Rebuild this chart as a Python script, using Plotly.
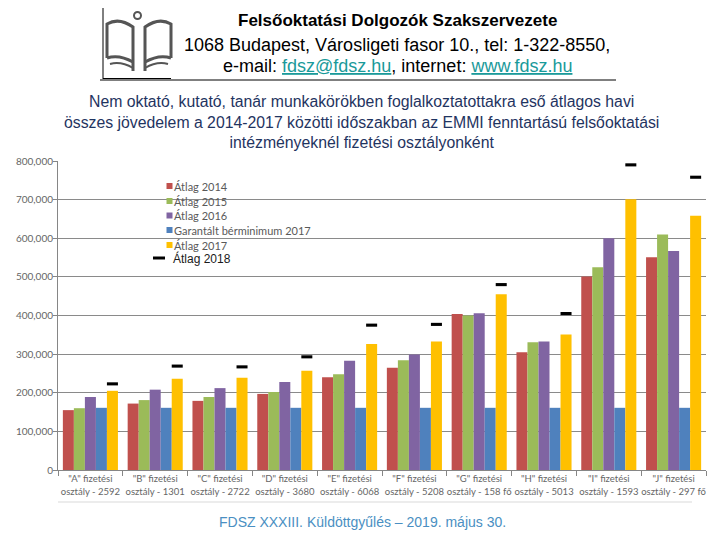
import plotly.graph_objects as go

categories = [
    '"A" fizetési<br>osztály - 2592',
    '"B" fizetési<br>osztály - 1301',
    '"C" fizetési<br>osztály - 2722',
    '"D" fizetési<br>osztály - 3680',
    '"E" fizetési<br>osztály - 6068',
    '"F" fizetési<br>osztály - 5208',
    '"G" fizetési<br>osztály - 158 fő',
    '"H" fizetési<br>osztály - 5013',
    '"I" fizetési<br>osztály - 1593',
    '"J" fizetési<br>osztály - 297 fő',
]
atlag_2014 = [155000, 172000, 179000, 197000, 240000, 265000, 404000, 305000, 501000, 551000]
atlag_2015 = [160000, 181000, 189000, 202000, 248000, 284000, 400000, 331000, 525000, 610000]
atlag_2016 = [189000, 208000, 212000, 228000, 283000, 299000, 406000, 333000, 600000, 567000]
berminimum_2017 = [161000, 161000, 161000, 161000, 161000, 161000, 161000, 161000, 161000, 161000]
atlag_2017 = [205000, 236000, 239000, 257000, 326000, 333000, 455000, 351000, 701000, 658000]
atlag_2018 = [223000, 269000, 267000, 293000, 375000, 377000, 480000, 405000, 790000, 758000]

series_names = ["Átlag 2014", "Átlag 2015", "Átlag 2016", "Garantált bérminimum 2017", "Átlag 2017"]
series_values = [atlag_2014, atlag_2015, atlag_2016, berminimum_2017, atlag_2017]
series_colors = ["#C0504D", "#9BBB59", "#8064A2", "#4F81BD", "#FFC000"]
name_2018 = "Átlag 2018"
y_ticks = [0, 100000, 200000, 300000, 400000, 500000, 600000, 700000, 800000]

# page offset of the figure inside the browser window (default body margin)
OFF = 8
# plot area geometry in screenshot pixels
L, R, T, B = 58, 706, 161, 470
W, H = 720 - OFF, 540 - OFF


def px(x):
    return (x - L) / (R - L)


def py(y):
    return (B - y) / (B - T)


fig = go.Figure()
for i, (nm, vals, col) in enumerate(zip(series_names, series_values, series_colors)):
    fig.add_trace(go.Bar(x=categories, y=vals, name=nm, marker_color=col,
                         marker_line_width=0, offsetgroup=str(i), showlegend=False))

# 2018 averages: short black dashes above the 2017 bars
thick = 8000
fig.add_trace(go.Bar(x=categories, y=[thick] * len(atlag_2018),
                     base=[v - thick / 2 for v in atlag_2018],
                     name=name_2018, marker_color="black", marker_line_width=0,
                     offsetgroup="4", showlegend=False))

fig.update_layout(
    width=W, height=H,
    margin=dict(l=L - OFF, r=W - (R - OFF), t=T - OFF, b=H - (B - OFF), autoexpand=False),
    paper_bgcolor="white", plot_bgcolor="white",
    barmode="group", bargap=0.15, bargroupgap=0,
    font=dict(family="Lato, Liberation Sans, sans-serif", color="#595959"),
)
fig.update_xaxes(
    type="category", showline=True, linecolor="#868686", linewidth=1,
    ticks="outside", tickson="boundaries", ticklen=5, tickcolor="#868686",
    tickangle=0, automargin=False,
    tickfont=dict(size=9.5, color="#666666"), showgrid=False,
)
fig.update_yaxes(
    range=[0, 800000], tickvals=y_ticks, tickformat=",d",
    showline=True, linecolor="#868686", linewidth=1,
    ticks="outside", ticklen=4, tickcolor="#868686", automargin=False,
    ticklabelstandoff=-2,
    tickfont=dict(size=10, color="#666666"),
    showgrid=True, gridcolor="#8a8a8a", gridwidth=1, zeroline=False,
)

shapes = []
annotations = []

# manual legend
leg_y = [186, 201, 215.5, 230, 245]
for nm, col, yy in zip(series_names, series_colors, leg_y):
    shapes.append(dict(type="rect", xref="paper", yref="paper",
                       x0=px(166.5), x1=px(172.5), y0=py(yy + 3), y1=py(yy - 3),
                       fillcolor=col, line_width=0))
    annotations.append(dict(text=nm, xref="paper", yref="paper", x=px(172), y=py(yy),
                            xanchor="left", yanchor="middle", showarrow=False,
                            font=dict(size=11, color="#595959", family="Lato, sans-serif")))
shapes.append(dict(type="line", xref="paper", yref="paper",
                   x0=px(153), x1=px(165), y0=py(258), y1=py(258),
                   line=dict(color="black", width=3)))
annotations.append(dict(text=name_2018, xref="paper", yref="paper", x=px(171), y=py(258),
                        xanchor="left", yanchor="middle", showarrow=False,
                        font=dict(size=12, color="#1a1a1a", family="Liberation Sans, Arial, sans-serif")))

# light separator below category labels
shapes.append(dict(type="line", xref="paper", yref="paper",
                   x0=px(58), x1=px(692), y0=py(502), y1=py(502),
                   line=dict(color="#d9d9d9", width=1)))

# header
hdr_font = "Liberation Sans, Arial, sans-serif"
annotations.append(dict(text="<b>Felsőoktatási Dolgozók Szakszervezete</b>", xref="paper", yref="paper",
                        x=px(397), y=py(20), xanchor="center", yanchor="middle", showarrow=False,
                        font=dict(size=17, color="black", family=hdr_font)))
annotations.append(dict(text="1068 Budapest, Városligeti fasor 10., tel: 1-322-8550,", xref="paper", yref="paper",
                        x=px(397), y=py(45), xanchor="center", yanchor="middle", showarrow=False,
                        font=dict(size=18, color="black", family=hdr_font)))
annotations.append(dict(text='e-mail: <span style="color:#1a9a9a"><u>fdsz@fdsz.hu</u></span>, internet: '
                             '<span style="color:#1a9a9a"><u>www.fdsz.hu</u></span>',
                        xref="paper", yref="paper",
                        x=px(397), y=py(66), xanchor="center", yanchor="middle", showarrow=False,
                        font=dict(size=18, color="black", family=hdr_font)))
shapes.append(dict(type="line", xref="paper", yref="paper",
                   x0=px(100), x1=px(616), y0=py(80), y1=py(80),
                   line=dict(color="black", width=1)))

# logo
g = "#555555"


def path(pts, cmds):
    s = ""
    k = 0
    for c in cmds:
        if c in "ML":
            s += f"{c} {px(pts[k][0])},{py(pts[k][1])} "
            k += 1
        elif c == "Q":
            s += f"Q {px(pts[k][0])},{py(pts[k][1])} {px(pts[k+1][0])},{py(pts[k+1][1])} "
            k += 2
    return s.strip()


shapes.append(dict(type="line", xref="paper", yref="paper", x0=px(103), x1=px(103),
                   y0=py(8), y1=py(79), line=dict(color="black", width=1)))
shapes.append(dict(type="line", xref="paper", yref="paper", x0=px(103), x1=px(171),
                   y0=py(78.5), y1=py(78.5), line=dict(color="black", width=1)))
shapes.append(dict(type="circle", xref="paper", yref="paper", x0=px(134), x1=px(141),
                   y0=py(12), y1=py(19), line=dict(color=g, width=2)))
for side in (1, -1):
    cx = 139
    def X(d):
        return cx - side * d
    shapes.append(dict(type="path", xref="paper", yref="paper",
                       path=path([(X(32), 58), (X(32), 24), (X(20), 17), (X(6), 27), (X(6), 71)],
                                 "MLQL"),
                       line=dict(color=g, width=3)))
    shapes.append(dict(type="path", xref="paper", yref="paper",
                       path=path([(X(32), 58), (X(20), 54), (X(6), 62)], "MQ"),
                       line=dict(color=g, width=3)))
    shapes.append(dict(type="path", xref="paper", yref="paper",
                       path=path([(X(29), 64), (X(18), 61), (X(6), 68)], "MQ"),
                       line=dict(color=g, width=2)))

# subtitle
annotations.append(dict(
    text="Nem oktató, kutató, tanár munkakörökben foglalkoztatottakra eső átlagos havi<br>"
         "összes jövedelem a 2014-2017 közötti időszakban az EMMI fenntartású felsőoktatási<br>"
         "intézményeknél fizetési osztályonként",
    xref="paper", yref="paper", x=px(361), y=py(122), xanchor="center", yanchor="middle",
    showarrow=False, align="center",
    font=dict(size=15.8, color="#1f3461", family=hdr_font)))

# footer
annotations.append(dict(text="FDSZ XXXIII. Küldöttgyűlés – 2019. május 30.", xref="paper", yref="paper",
                        x=px(362), y=py(522), xanchor="center", yanchor="middle", showarrow=False,
                        font=dict(size=14, color="#4a8fc2", family=hdr_font)))

fig.update_layout(shapes=shapes, annotations=annotations)
fig.write_html("out.html")
